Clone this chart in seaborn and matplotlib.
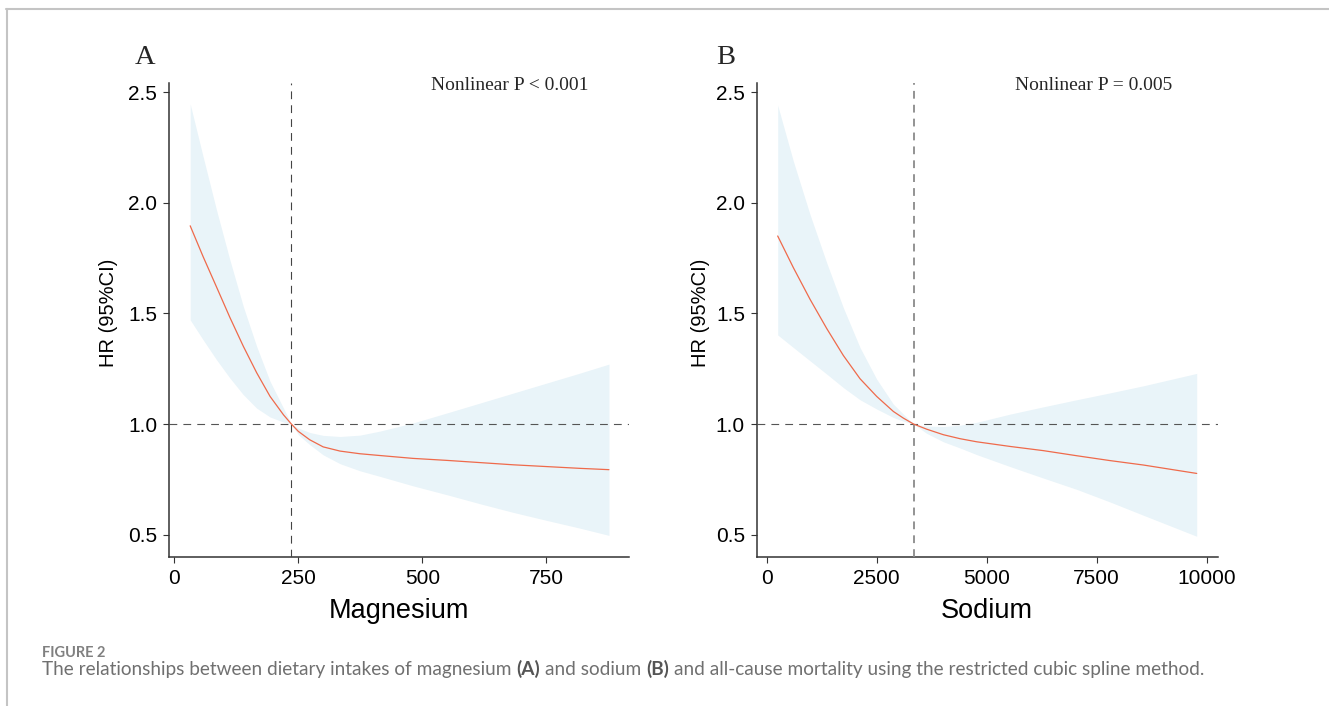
import numpy as np
import pandas as pd
import matplotlib
matplotlib.use("Agg")
import matplotlib.pyplot as plt
from matplotlib.lines import Line2D
import seaborn as sns

# ---------------- data ----------------
mg_x = [32, 58, 85, 112, 139, 166, 193, 220, 236, 250, 273, 300, 334, 374, 414, 481, 549, 616, 683, 750, 817, 876]
mg_hr = [1.896, 1.757, 1.620, 1.482, 1.352, 1.232, 1.125, 1.042, 1.0, 0.967, 0.929, 0.897, 0.878, 0.866, 0.858,
         0.845, 0.836, 0.826, 0.816, 0.808, 0.800, 0.794]
mg_hi = [2.447, 2.209, 1.968, 1.742, 1.532, 1.351, 1.193, 1.072, 1.0, 0.982, 0.962, 0.949, 0.944, 0.950, 0.968,
         1.005, 1.050, 1.095, 1.140, 1.185, 1.230, 1.271]
mg_lo = [1.471, 1.381, 1.291, 1.208, 1.133, 1.072, 1.032, 1.009, 1.0, 0.952, 0.907, 0.861, 0.821, 0.789, 0.764,
         0.721, 0.681, 0.640, 0.601, 0.565, 0.530, 0.497]
mg_ref = 236

na_x = [250, 606, 985, 1364, 1742, 2121, 2500, 2879, 3106, 3341, 3636, 4015, 4394, 4773, 5530, 6288, 7046,
        7803, 8561, 9773]
na_hr = [1.850, 1.707, 1.564, 1.432, 1.310, 1.205, 1.125, 1.057, 1.027, 1.0, 0.977, 0.952, 0.934, 0.920, 0.899,
         0.880, 0.857, 0.835, 0.815, 0.777]
na_hi = [2.441, 2.188, 1.947, 1.729, 1.526, 1.346, 1.203, 1.090, 1.045, 1.0, 0.991, 0.989, 0.995, 1.008, 1.045,
         1.078, 1.110, 1.141, 1.173, 1.229]
na_lo = [1.403, 1.346, 1.286, 1.226, 1.165, 1.110, 1.068, 1.030, 1.013, 1.0, 0.958, 0.920, 0.892, 0.862, 0.808,
         0.756, 0.705, 0.648, 0.588, 0.493]
na_ref = 3341

y_ticks = [0.5, 1.0, 1.5, 2.0, 2.5]
mg_ticks = [0, 250, 500, 750]
na_ticks = [0, 2500, 5000, 7500, 10000]

panel_letters = ["A", "B"]
x_labels = ["Magnesium", "Sodium"]
y_label = "HR (95%CI)"
p_texts = ["Nonlinear P < 0.001", "Nonlinear P = 0.005"]
caption_head = "FIGURE 2"
caption_parts = [
    ("The relationships between dietary intakes of magnesium", "normal"),
    ("(A)", "bold"),
    ("and sodium", "normal"),
    ("(B)", "bold"),
    ("and all-cause mortality using the restricted cubic spline method.", "normal"),
]

# ---------------- style ----------------
sns.set_theme(style="ticks")
plt.rcParams["font.family"] = ["Liberation Sans", "DejaVu Sans"]

CURVE = "#EF6A4B"
FILL = "#E9F4F9"
SPINE = "#333333"
W, H = 1329, 706

fig = plt.figure(figsize=(W / 100, H / 100), dpi=100)
fig.patch.set_facecolor("white")


def rect(l, r, t, b):
    return [l / W, 1 - b / H, (r - l) / W, (b - t) / H]


axA = fig.add_axes(rect(169, 629.3, 83.3, 557.3))
axB = fig.add_axes(rect(756.7, 1217.7, 83.3, 557.3))

panels = [
    (axA, mg_x, mg_hr, mg_lo, mg_hi, mg_ref, mg_ticks, (-10.7, 917), "#444444", 0.8, -0.110),
    (axB, na_x, na_hr, na_lo, na_hi, na_ref, na_ticks, (-227, 10250), "#8a8a8a", 1.3, -0.102),
]

for i, (ax, x, hr, lo, hi, ref, xt, xl, vcol, vlw, ylx) in enumerate(panels):
    df = pd.DataFrame({"x": x, "hr": hr, "lo": lo, "hi": hi})
    ax.set_facecolor("white")
    ax.fill_between(df["x"], df["lo"], df["hi"], color=FILL, linewidth=0, zorder=1)
    sns.lineplot(data=df, x="x", y="hr", ax=ax, color=CURVE, linewidth=0.9,
                 estimator=None, sort=False, zorder=4)
    ax.axhline(1.0, color="#555555", linewidth=0.8, dashes=(7, 5.5), zorder=3)
    ax.axvline(ref, color=vcol, linewidth=vlw, dashes=(7 * 0.8 / vlw, 5.5 * 0.8 / vlw), zorder=3)
    ax.set_xlim(*xl)
    ax.set_ylim(0.398, 2.54)
    ax.set_xticks(xt)
    ax.set_xticklabels([str(v) for v in xt])
    ax.set_yticks(y_ticks)
    ax.set_yticklabels([f"{v:.1f}" for v in y_ticks])
    ax.tick_params(axis="both", labelsize=15, length=4.5, width=0.8, color=SPINE,
                   labelcolor="black", pad=4, direction="out")
    for s in ["top", "right"]:
        ax.spines[s].set_visible(False)
    for s in ["left", "bottom"]:
        ax.spines[s].set_linewidth(1.1)
        ax.spines[s].set_color(SPINE)
    ax.grid(False)
    ax.set_xlabel(x_labels[i], fontsize=19.5, labelpad=7, color="black")
    ax.set_ylabel(y_label, fontsize=14.5, color="black")
    ax.yaxis.set_label_coords(ylx, 0.516)

# panel letters and p-value texts
serif = ["Liberation Serif", "DejaVu Serif"]
fig.text(144.8 / W, 1 - 64 / H, panel_letters[0], family=serif, fontsize=20.5,
         ha="center", va="baseline")
fig.text(725.6 / W, 1 - 64 / H, panel_letters[1], family=serif, fontsize=20.5,
         ha="center", va="baseline")
fig.text(509.3 / W, 1 - 90 / H, p_texts[0], family=serif, fontsize=14,
         ha="center", va="baseline")
fig.text(1093.7 / W, 1 - 90 / H, p_texts[1], family=serif, fontsize=14,
         ha="center", va="baseline")

# frame lines of the figure page
fig.add_artist(Line2D([6 / W, 1.0], [1 - 9 / H, 1 - 9 / H], transform=fig.transFigure,
                      color="#c4c4c4", linewidth=1.5))
fig.add_artist(Line2D([7 / W, 7 / W], [1 - 9 / H, 0.0], transform=fig.transFigure,
                      color="#c4c4c4", linewidth=1.5))

# caption
cap_font = ["Lato", "DejaVu Sans"]
cap_size = 13.7
fig.text(42 / W, 1 - 657 / H, caption_head, family=cap_font, fontsize=10.5,
         fontweight="bold", color="#808080", ha="left", va="baseline")

renderer = fig.canvas.get_renderer()
probe1 = fig.text(0, 0, "x x", family=cap_font, fontsize=cap_size)
probe2 = fig.text(0, 0, "xx", family=cap_font, fontsize=cap_size)
space_px = probe1.get_window_extent(renderer).width - probe2.get_window_extent(renderer).width
probe1.remove()
probe2.remove()

x_px = 42.0
for txt, wt in caption_parts:
    t = fig.text(x_px / W, 1 - 675 / H, txt, family=cap_font, fontsize=cap_size,
                 fontweight=wt, color="#555555" if wt == "bold" else "#707070",
                 ha="left", va="baseline")
    bb = t.get_window_extent(renderer)
    x_px = bb.x1 + space_px

fig.savefig("out.png", dpi=100, facecolor="white")
